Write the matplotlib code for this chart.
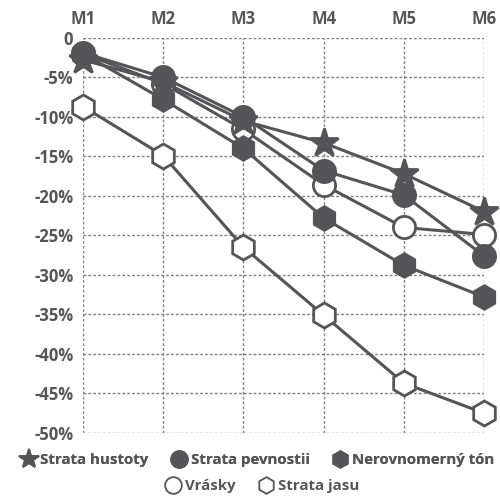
import matplotlib
matplotlib.use("Agg")
import matplotlib.pyplot as plt
from matplotlib.lines import Line2D

months = ["M1", "M2", "M3", "M4", "M5", "M6"]
y_ticks = [0, -5, -10, -15, -20, -25, -30, -35, -40, -45, -50]

# values in %
strata_hustoty = [-2.8, -5.6, -10.5, -13.3, -17.2, -22.0]
strata_pevnostii = [-1.9, -5.0, -10.0, -16.8, -19.9, -27.6]
nerovnomerny_ton = [-2.0, -7.8, -14.0, -22.8, -28.8, -32.8]
vrasky = [-2.0, -5.8, -11.6, -18.6, -24.0, -24.9]
strata_jasu = [-8.7, -14.9, -26.5, -35.1, -43.7, -47.5]

col = "#555558"
plt.rcParams['font.family'] = ['Open Sans', 'DejaVu Sans']

fig = plt.figure(figsize=(5, 4.97), dpi=100)
ax = fig.add_axes([0.166, 0.129, 0.802, 0.795])

x = list(range(len(months)))
series = [
    ("Strata hustoty", strata_hustoty, "*", 21, col),
    ("Strata pevnostii", strata_pevnostii, "o", 16, col),
    ("Nerovnomerný tón", nerovnomerny_ton, "h", 17, col),
    ("Vrásky", vrasky, "o", 16, "white"),
    ("Strata jasu", strata_jasu, "h", 18, "white"),
]
handles = []
for i, (name, vals, m, ms, fc) in enumerate(series):
    ax.plot(x, vals, color=col, lw=2.2, marker=m, ms=ms, mfc=fc, mec=col,
            mew=2, zorder=5 - i if fc == "white" else 6 + i, clip_on=False)
    handles.append(Line2D([], [], ls="none", marker=m, ms=15 if m == "*" else 12,
                          mfc=fc, mec=col, mew=1.3, label=name))

ax.set_xlim(0, 5)
ax.set_ylim(-50, 0)
ax.set_xticks(x)
ax.set_xticklabels(months)
ax.set_yticks(y_ticks)
ax.set_yticklabels(["0"] + [f"{v}%" for v in y_ticks[1:]])
ax.xaxis.tick_top()
ax.tick_params(length=0, labelsize=12, labelcolor=col, pad=7)
for lab in ax.get_xticklabels() + ax.get_yticklabels():
    lab.set_fontweight("bold")
for s in ax.spines.values():
    s.set_visible(False)
ax.grid(True, color="#808080", ls=(0, (2, 1.5)), lw=1.0)
ax.set_axisbelow(True)

legend_kw = dict(loc="center", frameon=False, handletextpad=0.3, columnspacing=1.5,
                 handlelength=1.0, borderpad=0, prop={'size': 10.8, 'weight': 'bold'},
                 labelcolor=col)
leg1 = fig.legend(handles=handles[:3], bbox_to_anchor=(0.515, 0.074), ncol=3, **legend_kw)
leg2 = fig.legend(handles=handles[3:], bbox_to_anchor=(0.525, 0.022), ncol=2, **legend_kw)
fig.add_artist(leg1)

fig.savefig("out.png", dpi=100)
